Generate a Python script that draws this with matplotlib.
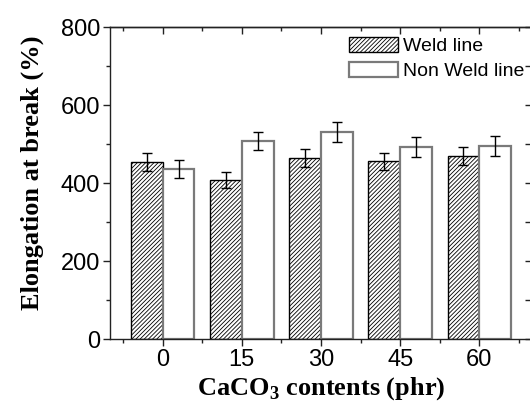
import numpy as np

import matplotlib
matplotlib.use('Agg')
from matplotlib import pyplot as plt

#-------------------------------------------------

contents   = [0, 15, 30, 45, 60]
weld       = [454, 408, 464, 456, 469]
weld_err   = [22, 21, 23, 22, 23]
nonweld    = [436, 508, 531, 492, 495]
nonweld_err = [22, 24, 26, 25, 25]

#-------------------------------------------------

plt.rcParams['font.family'] = ['Liberation Sans', 'DejaVu Sans']
plt.rcParams['hatch.linewidth'] = 0.6
plt.rcParams['mathtext.fontset'] = 'custom'
plt.rcParams['mathtext.rm'] = 'Liberation Serif:bold'
plt.rcParams['mathtext.bf'] = 'Liberation Serif:bold'

fig = plt.figure(figsize=(5.30, 4.16), dpi=100)
ax  = fig.add_axes([110/530., 1-339/416., 422/530., 312/416.])

x = np.array(contents, dtype=float)
w = 6.0

ax.bar(x-w/2, weld, width=w, color='white', edgecolor='black', hatch='////////',
       linewidth=1.0, label='Weld line', zorder=2)
ax.bar(x+w/2, nonweld, width=w, color='white', edgecolor='#7a7a7a',
       linewidth=1.6, label='Non Weld line', zorder=2)

ax.errorbar(x-w/2, weld, yerr=weld_err, fmt='none', ecolor='black',
            elinewidth=1.0, capsize=3.5, capthick=1.0, zorder=3)
ax.errorbar(x+w/2, nonweld, yerr=nonweld_err, fmt='none', ecolor='black',
            elinewidth=1.0, capsize=3.5, capthick=1.0, zorder=3)

ax.set_xlim(-10, 70)
ax.set_ylim(0, 800)
ax.set_xticks(contents)
ax.set_xticks([-7.5, 7.5, 22.5, 37.5, 52.5, 67.5], minor=True)
ax.set_yticks([0, 200, 400, 600, 800])
ax.set_yticks([100, 300, 500, 700], minor=True)

ax.tick_params(which='major', direction='out', length=5, width=1.0,
               labelsize=17, pad=2, color='#222222')
ax.tick_params(which='minor', direction='out', length=3, width=1.0,
               color='#222222')

### mirrored ticks pointing inward
top = ax.secondary_xaxis('top')
top.set_xticks(contents)
top.set_xticks([-7.5, 7.5, 22.5, 37.5, 52.5, 67.5], minor=True)
top.tick_params(which='major', direction='in', length=5, width=1.0, labeltop=False, color='#222222')
top.tick_params(which='minor', direction='in', length=3, width=1.0, labeltop=False, color='#222222')
right = ax.secondary_yaxis('right')
right.set_yticks([0, 200, 400, 600, 800])
right.set_yticks([100, 300, 500, 700], minor=True)
right.tick_params(which='both', direction='in', length=5, width=1.0, labelright=False, color='#222222')

for sp in list(ax.spines.values()) + [top.spines['top'], right.spines['right']]:
    sp.set_linewidth(1.0)
    sp.set_color('#222222')

ax.set_ylabel('Elongation at break (%)', family='Liberation Serif',
              fontweight='bold', fontsize=19)
ax.yaxis.set_label_coords(-0.157, 0.532)
ax.set_xlabel(r'CaCO$_{3}$ contents (phr)', family='Liberation Serif',
              fontweight='bold', fontsize=19, labelpad=3)

fig.legend(loc='upper left', bbox_to_anchor=(349/530., 1-37/416.),
           frameon=False, fontsize=14, borderpad=0, handlelength=2.5,
           handleheight=0.8, handletextpad=0.3, labelspacing=0.35,
           borderaxespad=0)

fig.savefig('out.png', dpi=100)
plt.close(fig)
